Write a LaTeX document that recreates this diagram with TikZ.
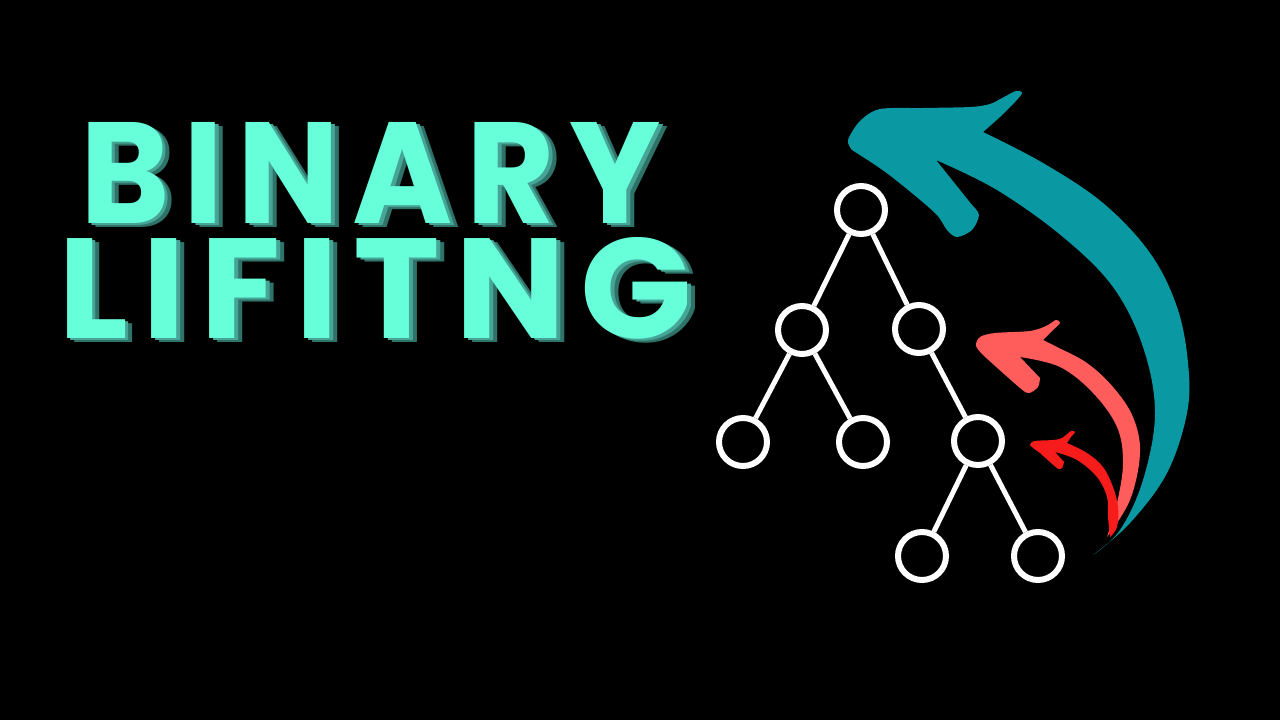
\documentclass[tikz,border=0pt]{standalone}
\usepackage{fontspec}
\usepackage{graphicx}
\newfontfamily\titlefont{Poppins}[LetterSpace=10]
\definecolor{bgc}{HTML}{000000}
\definecolor{textc}{HTML}{66FFD9}
\definecolor{shadowA}{HTML}{2E7268}
\definecolor{shadowB}{HTML}{46A597}
\definecolor{tealc}{HTML}{0A99A2}
\definecolor{salmonc}{HTML}{FF5C5C}
\definecolor{redc}{HTML}{F71C1C}
\tikzset{
  treenode/.style={circle, draw=white, line width=6pt, fill=black, minimum size=48pt, inner sep=0pt},
  treeedge/.style={draw=white, line width=5pt},
  titletext/.style={anchor=north west, inner sep=0pt, outer sep=0pt},
}
\newcommand{\extruded}[3]{%
  \rlap{\hspace*{8pt}\raisebox{-4pt}{\textcolor{shadowA}{\resizebox{#1}{#2}{\titlefont\bfseries #3}}}}%
  \rlap{\hspace*{4pt}\raisebox{-2pt}{\textcolor{shadowB}{\resizebox{#1}{#2}{\titlefont\bfseries #3}}}}%
  \textcolor{textc}{\resizebox{#1}{#2}{\titlefont\bfseries #3}}}
\begin{document}
\begin{tikzpicture}[x=1pt,y=-1pt]
\fill[bgc] (0,0) rectangle (1280,720);
\useasboundingbox (0,0) rectangle (1280,720);

% title with extruded shadow
\node[titletext] (t1) at (80,122) {\extruded{580pt}{101pt}{BINARY}};
\node[titletext] (t2) at (58,237) {\extruded{634pt}{101pt}{LIFITNG}};

% tree
\node[treenode] (r) at (861,210) {};
\node[treenode] (a) at (802,330) {};
\node[treenode] (b) at (919,329) {};
\node[treenode] (c) at (743,442) {};
\node[treenode] (d) at (863,442) {};
\node[treenode] (e) at (978,441) {};
\node[treenode] (f) at (922,556) {};
\node[treenode] (g) at (1038,556) {};
\draw[treeedge] (r) -- (a);
\draw[treeedge] (r) -- (b);
\draw[treeedge] (a) -- (c);
\draw[treeedge] (a) -- (d);
\draw[treeedge] (b) -- (e);
\draw[treeedge] (e) -- (f);
\draw[treeedge] (e) -- (g);

% big teal arrow
\fill[tealc] (1093,555)
  -- plot[smooth, tension=0.6] coordinates {(1093,555) (1130,523) (1167,473) (1187,413) (1188,363) (1177,307) (1150,253) (1103,203) (1043,163) (983,132)}
  -- plot[smooth, tension=0.5] coordinates {(983,132) (1000,117) (1015,102) (1022,93) (1016,91) (1004,97) (990,104) (970,107) (923,108) (880,109) (860,121) (848,140) (852,150)}
  -- plot[smooth, tension=0.5] coordinates {(852,150) (888,174) (934,212) (947,230) (957,237) (972,230) (979,215) (972,205)}
  -- (936,160)
  -- plot[smooth, tension=0.6] coordinates {(936,160) (997,190) (1063,237) (1113,287) (1143,347) (1155,413) (1143,480) (1120,530) (1093,555)}
  -- cycle;

% salmon arrow
\fill[salmonc] (1107,537)
  -- plot[smooth, tension=0.6] coordinates {(1107,537) (1130,500) (1140,453) (1133,417) (1113,387) (1087,363) (1057,347) (1043,340)}
  -- plot[smooth, tension=0.5] coordinates {(1043,340) (1052,331) (1060,323) (1056,320) (1046,326) (1030,331) (995,333) (980,337) (976,346) (984,356)}
  -- plot[smooth, tension=0.5] coordinates {(984,356) (1020,388) (1029,393) (1038,387) (1040,378)}
  -- (1020,357)
  -- plot[smooth, tension=0.6] coordinates {(1020,357) (1060,367) (1093,393) (1117,427) (1123,463) (1117,503) (1107,537)}
  -- cycle;

% red arrow
\fill[redc] (1110,537)
  -- plot[smooth, tension=0.6] coordinates {(1110,537) (1117,527) (1118,507) (1113,487) (1103,467) (1087,453) (1067,443)}
  -- plot[smooth, tension=0.5] coordinates {(1067,443) (1071,437) (1075,432) (1071,431) (1062,438) (1053,440) (1035,441) (1030,445) (1040,453)}
  -- plot[smooth, tension=0.5] coordinates {(1040,453) (1057,468) (1062,468) (1064,462)}
  -- (1055,452)
  -- plot[smooth, tension=0.6] coordinates {(1055,452) (1077,460) (1097,477) (1107,497) (1108,517) (1110,537)}
  -- cycle;
\end{tikzpicture}
\end{document}
